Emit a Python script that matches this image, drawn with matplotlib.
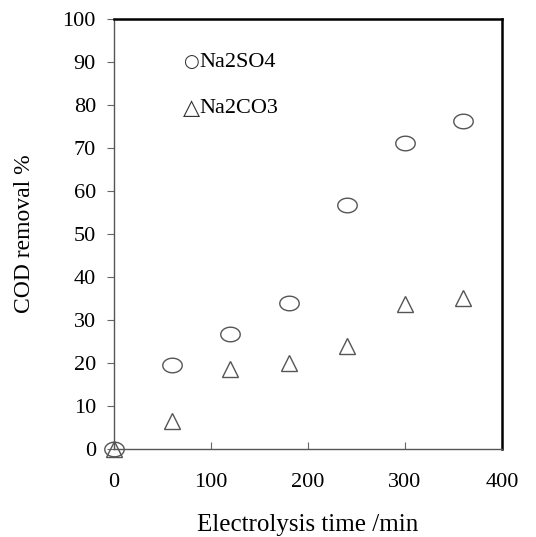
import matplotlib
matplotlib.use("Agg")
import matplotlib.pyplot as plt
import numpy as np
from matplotlib.path import Path

time_min = [0, 60, 120, 180, 240, 300, 360]
na2so4 = [0, 19.5, 26.7, 34.0, 56.7, 71.2, 76.3]
na2co3 = [0, 6.5, 18.5, 20.0, 24.0, 33.7, 35.0]
xticks = [0, 100, 200, 300, 400]
yticks = list(range(0, 101, 10))
labels = ['Na2SO4', 'Na2CO3']
symbols = ['\u25cb', '\u25b3']
symbol_sizes = [13, 16]

plt.rcParams['font.family'] = ['Liberation Serif', 'DejaVu Serif', 'DejaVu Sans']

fig = plt.figure(figsize=(5.36, 5.37), dpi=100)
ax = fig.add_axes([0.2127, 0.1639, 0.7239, 0.8007])

t = np.linspace(0, 2 * np.pi, 60)
ellipse = Path(np.column_stack([np.cos(t), 0.75 * np.sin(t)]), closed=True)

ax.plot(time_min, na2so4, linestyle='none', marker=ellipse, markersize=14,
        markerfacecolor='none', markeredgecolor='#555555', markeredgewidth=1.0, clip_on=False)
ax.plot(time_min, na2co3, linestyle='none', marker='^', markersize=12,
        markerfacecolor='none', markeredgecolor='#555555', markeredgewidth=1.0, clip_on=False)

ax.set_xlim(0, 400)
ax.set_ylim(0, 100)
ax.set_xticks(xticks)
ax.set_yticks(yticks)
ax.tick_params(axis='x', direction='in', length=5, labelsize=16, pad=17, color='#666666')
ax.tick_params(axis='y', direction='out', length=5, labelsize=16, pad=8, color='#666666')

for s in ['left', 'bottom']:
    ax.spines[s].set_color('#555555')
    ax.spines[s].set_linewidth(1.0)
for s in ['right', 'top']:
    ax.spines[s].set_color('black')
    ax.spines[s].set_linewidth(1.8)

ax.set_xlabel('Electrolysis time /min', fontsize=18, labelpad=16)
ax.set_ylabel('COD removal %', fontsize=17, labelpad=20)

for yv, sym, sz, lab in zip([90, 79.3], symbols, symbol_sizes, labels):
    ax.text(79.5, yv, sym, fontsize=sz, va='center', ha='center',
            family=['DejaVu Sans'], color='#333333')
    ax.text(88.0, yv, lab, fontsize=16, va='center', ha='left')

fig.savefig('out.png', dpi=100)
